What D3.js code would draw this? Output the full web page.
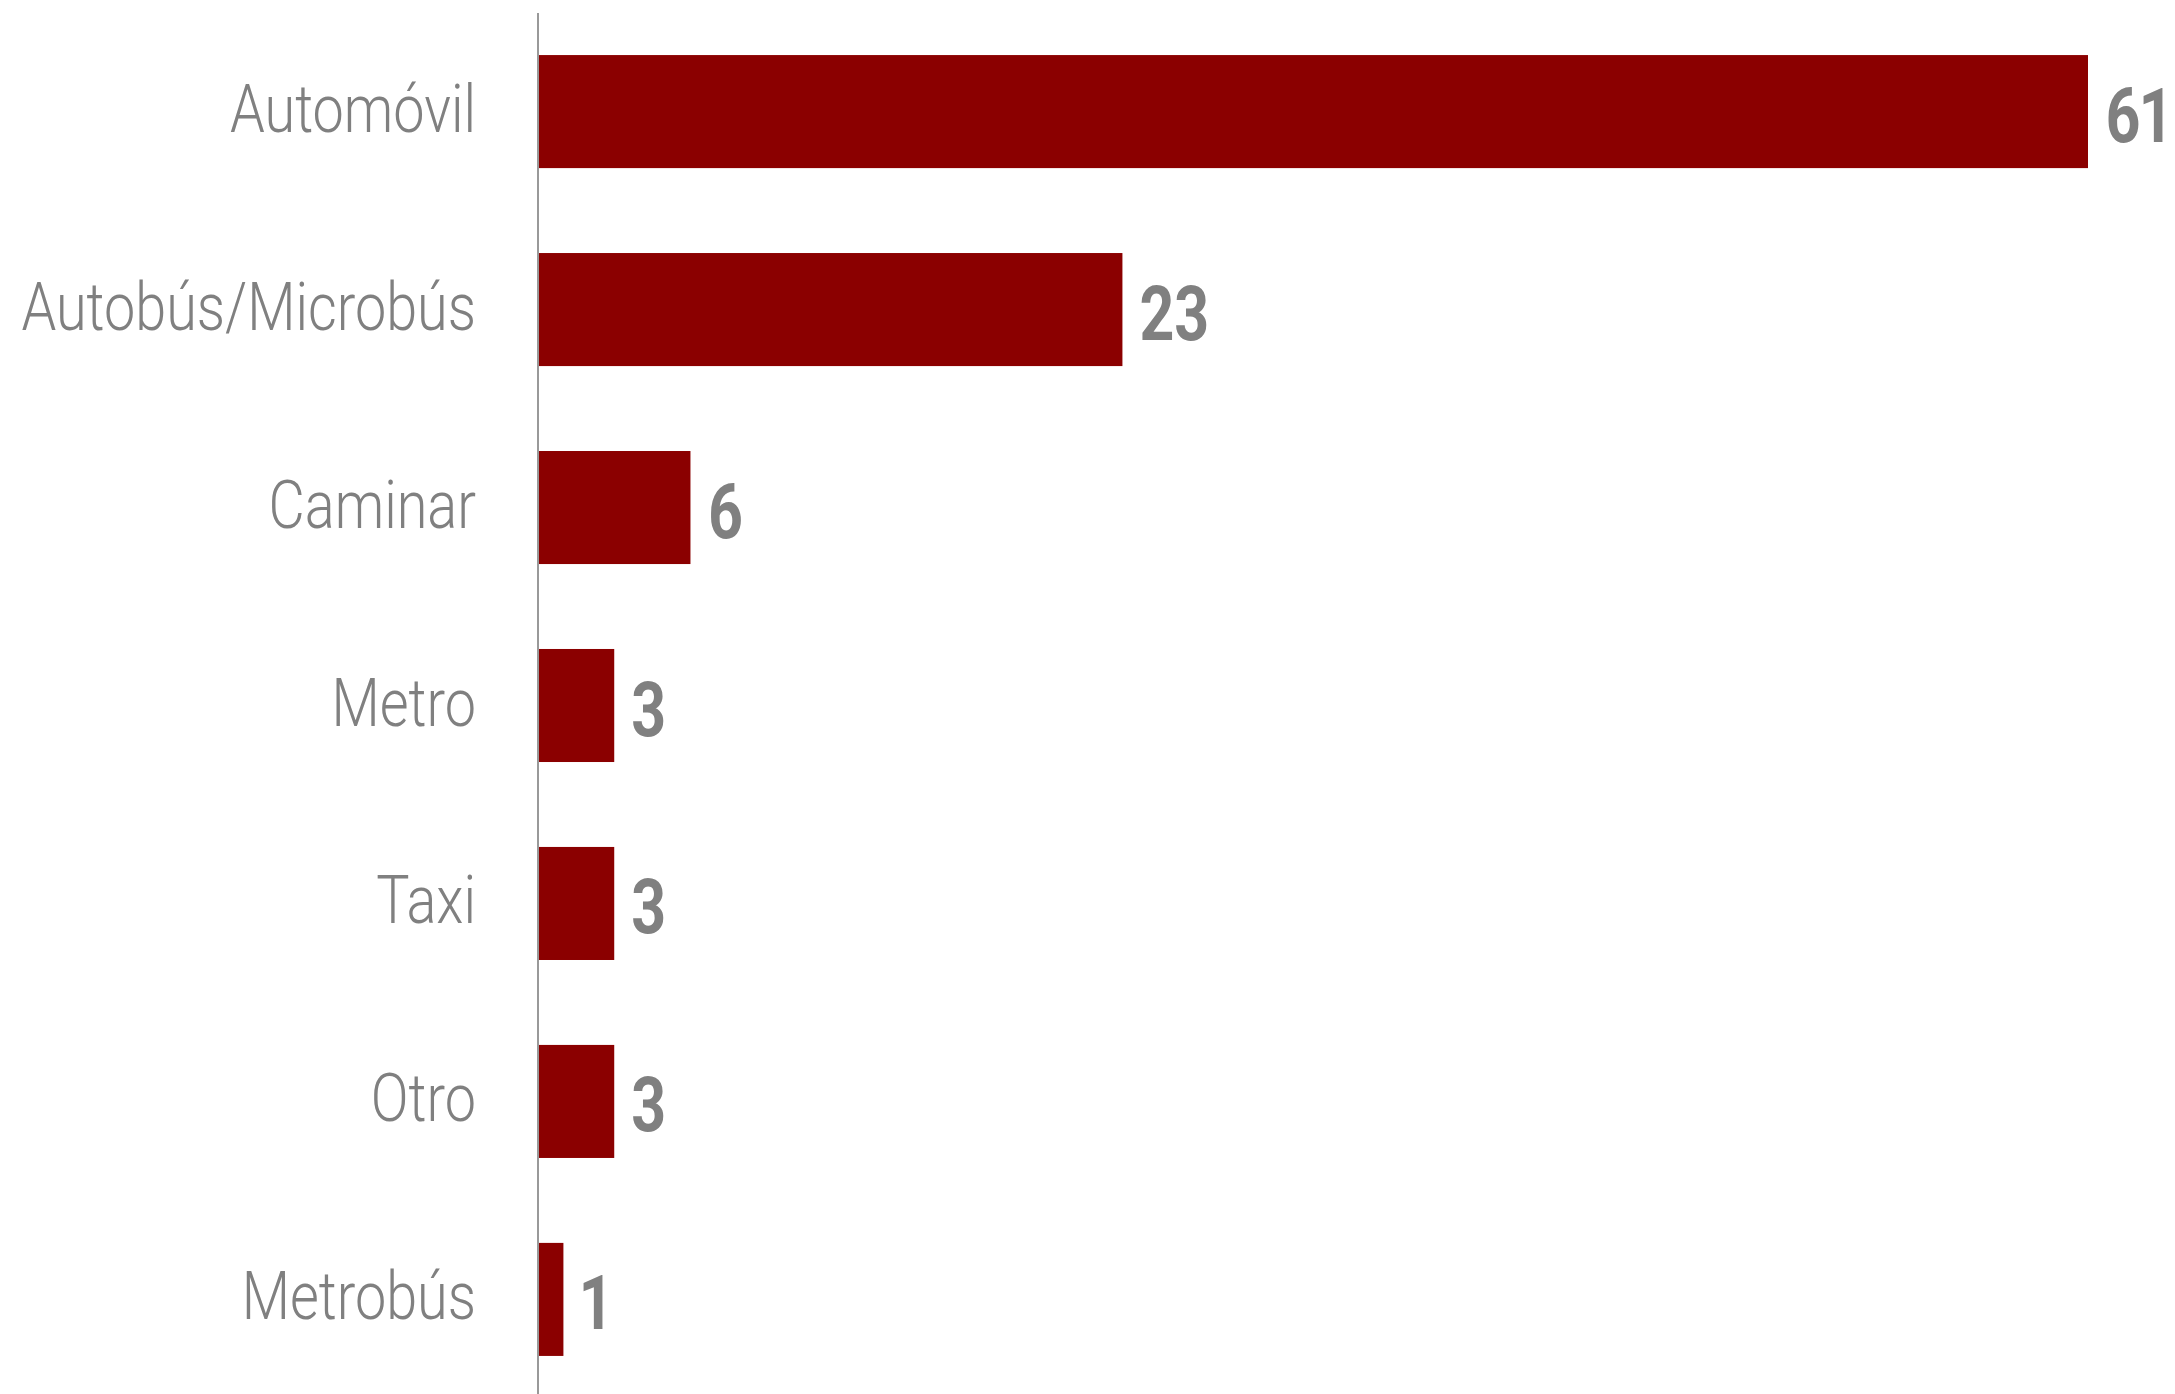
<!DOCTYPE html>
<html>
<head>
<meta charset="utf-8">
<script src="https://cdn.jsdelivr.net/npm/d3@7"></script>
<style>
  html, body { margin: 0; padding: 0; background: #ffffff; }
  svg { display: block; }
  .value-label { font-variant-numeric: proportional-nums; font-feature-settings: "pnum" 1; }
</style>
</head>
<body>
<svg id="chart" width="2175" height="1394"></svg>
<script>
// Modo de transporte (porcentaje)
const categories = ["Automóvil", "Autobús/Microbús", "Caminar", "Metro", "Taxi", "Otro", "Metrobús"];
const values = [61, 23, 6, 3, 3, 3, 1];

const W = 2175, H = 1394;
const axisX = 538;
const barColor = "#8b0000";
const textColor = "#808080";

const svg = d3.select("#chart");

const x = d3.scaleLinear().domain([0, 61]).range([axisX, 2088]);
const y = d3.scaleBand()
  .domain(categories)
  .range([12.5, 1398.5])
  .paddingInner(0.429)
  .paddingOuter(0.215);

// Bars
svg.append("g").selectAll("rect")
  .data(values)
  .join("rect")
  .attr("x", x(0))
  .attr("y", (d, i) => y(categories[i]))
  .attr("width", d => x(d) - x(0))
  .attr("height", y.bandwidth())
  .attr("fill", barColor);

// Category labels (condensed light text)
const catCondense = 0.845;
svg.append("g").selectAll("text")
  .data(categories)
  .join("text")
  .attr("transform", d => `translate(476,${y(d) + y.bandwidth() / 2 + 20}) scale(${catCondense},1)`)
  .attr("text-anchor", "end")
  .attr("font-family", "Roboto, 'Open Sans', sans-serif")
  .attr("font-weight", 300)
  .attr("font-size", 66)
  .attr("fill", textColor)
  .text(d => d);

// Value labels (condensed bold text)
const valCondense = 0.8;
svg.append("g").selectAll("text")
  .data(values)
  .join("text")
  .attr("class", "value-label")
  .attr("transform", (d, i) => `translate(${x(d) + 17},${y(categories[i]) + y.bandwidth() / 2 + 30}) scale(${valCondense},1)`)
  .attr("text-anchor", "start")
  .attr("font-family", "Roboto, 'Open Sans', sans-serif")
  .attr("font-weight", 700)
  .attr("font-size", 76)
  .attr("fill", textColor)
  .text(d => d);

// Vertical baseline axis
svg.append("line")
  .attr("x1", axisX).attr("x2", axisX)
  .attr("y1", 13).attr("y2", H)
  .attr("stroke", "#999999")
  .attr("stroke-width", 2);
</script>
</body>
</html>
